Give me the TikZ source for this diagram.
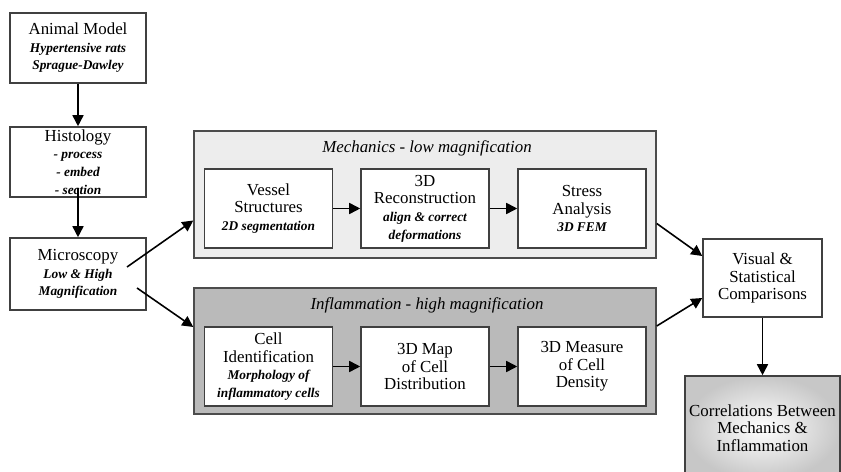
\documentclass[tikz,border=0pt]{standalone}
\usepackage{fontspec}
\setmainfont{Liberation Serif}
\usetikzlibrary{arrows.meta,calc,positioning}
\newcommand\mainsize{\fontsize{9.6pt}{10pt}\selectfont}
\newcommand\subtxt[1]{{\fontsize{7.6pt}{9pt}\selectfont\bfseries\itshape #1}}
\tikzset{box/.style={draw=black!75,line width=0.9pt,fill=white,align=center,inner sep=1pt,font=\mainsize},
  panel/.style={draw=black!70,line width=0.9pt,minimum width=9.24cm,minimum height=2.54cm},
  stage/.style={box,minimum width=2.56cm,minimum height=1.58cm},
  arr/.style={-{Triangle[length=2.2mm,width=2.2mm]},line width=0.9pt}}

\begin{document}
\begin{tikzpicture}[x=0.02cm,y=-0.02cm]
\useasboundingbox (0,0) rectangle (841,472);
\node[box,minimum width=2.72cm,minimum height=1.4cm] (animal) at (78,48) {Animal Model\\\subtxt{Hypertensive rats}\\\subtxt{Sprague-Dawley}};
\node[box,minimum width=2.72cm,minimum height=1.4cm] (hist) at (78,162) {Histology\\\subtxt{- process}\\\subtxt{- embed}\\\subtxt{- section}};
\node[box,minimum width=2.72cm,minimum height=1.44cm] (micro) at (78,274) {Microscopy\\\subtxt{Low \& High}\\\subtxt{Magnification}};
\node[panel,fill=black!7] (mech) at (425,194.5) {};
\node[font=\mainsize\itshape] (mechtitle) at (427,148) {Mechanics - low magnification};
\node[stage] (vessel) at (268.5,208.5) {Vessel\\Structures\\\subtxt{2D segmentation}};
\node[stage] (recon) at (425,208.5) {3D\\Reconstruction\\\subtxt{align \& correct}\\\subtxt{deformations}};
\node[stage] (stress) at (582,208.5) {Stress\\Analysis\\\subtxt{3D FEM}};
\node[panel,fill=black!27,minimum height=2.52cm] (infl) at (425,351) {};
\node[font=\mainsize\itshape] (infltitle) at (427,305) {Inflammation - high magnification};
\node[stage] (cellid) at (268.5,366.5) {Cell\\Identification\\\subtxt{Morphology of}\\\subtxt{inflammatory cells}};
\node[stage] (map) at (425,366.5) {3D Map\\of Cell\\Distribution};
\node[stage] (density) at (582,366.5) {3D Measure\\of Cell\\Density};
\node[box,minimum width=2.38cm,minimum height=1.56cm] (visual) at (762.5,278) {Visual \&\\Statistical\\Comparisons};
\node[box,inner color=white,outer color=black!22,minimum width=3.1cm,minimum height=2.08cm] (corr) at (762.5,428) {Correlations Between\\Mechanics \&\\Inflammation};
\coordinate (mlow) at ($(micro.center)+(49,-7)$);
\coordinate (mhigh) at ($(micro.center)+(59,14)$);
\draw[arr] (animal) -- (hist);
\draw[arr] ($(hist.south)+(0,-10)$) -- (micro);
\draw[arr] (mlow) -- ($(mech.west)+(0,26)$);
\draw[arr] (mhigh) -- ($(infl.west)+(0,-24)$);
\draw[arr] (vessel) -- (recon);
\draw[arr] (recon) -- (stress);
\draw[arr] (cellid) -- (map);
\draw[arr] (map) -- (density);
\draw[arr] ($(mech.east)+(0,29)$) -- ($(visual.west)+(0,-22)$);
\draw[arr] ($(infl.east)+(0,-25)$) -- ($(visual.west)+(0,20)$);
\draw[arr] (visual) -- (corr);
\end{tikzpicture}
\end{document}
